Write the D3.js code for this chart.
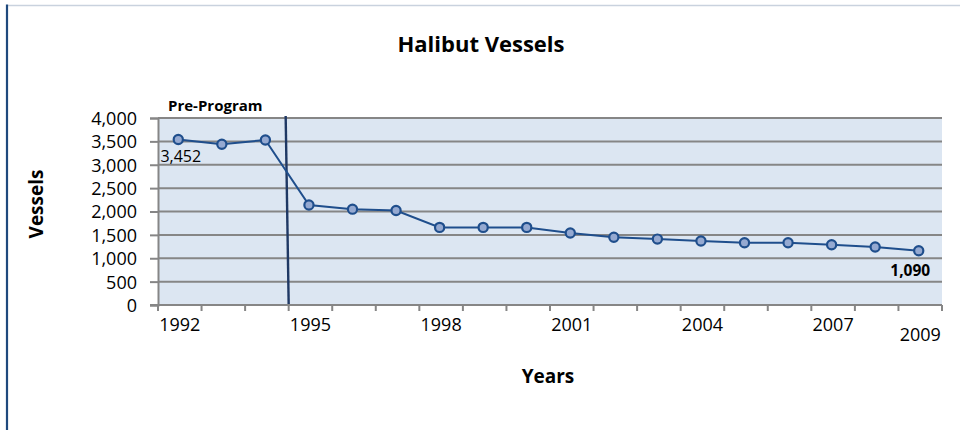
<!DOCTYPE html>
<html>
<head>
<meta charset="utf-8">
<title>Halibut Vessels</title>
<script src="https://cdn.jsdelivr.net/npm/d3@7"></script>
<style>
body { margin: 0; background: #fff; }
text { font-family: "Open Sans", sans-serif; fill: #000; }
.tick text { font-size: 18px; }
.bold { font-weight: bold; }
</style>
</head>
<body>
<script>

var years = [1992, 1993, 1994, 1995, 1996, 1997, 1998, 1999, 2000,
             2001, 2002, 2003, 2004, 2005, 2006, 2007, 2008, 2009];
var vessels = [3540, 3440, 3530, 2140, 2050, 2020, 1660, 1660, 1660,
               1540, 1450, 1410, 1370, 1330, 1330, 1290, 1240, 1160];
var yearLabels = [1992, 1995, 1998, 2001, 2004, 2007, 2009];
var yTicks = [0, 500, 1000, 1500, 2000, 2500, 3000, 3500, 4000];

var width = 960, height = 430;
var margin = {top: 118, right: 18, bottom: 125, left: 158};

var svg = d3.select("body").append("svg")
    .attr("width", width)
    .attr("height", height);

// outer frame: blue left edge, pale top edge
svg.append("line")
    .attr("x1", 8).attr("x2", width).attr("y1", 5.5).attr("y2", 5.5)
    .style("stroke", "#c9d2de").style("stroke-width", 1.5);
svg.append("line")
    .attr("x1", 7).attr("x2", 7).attr("y1", 4.5).attr("y2", height)
    .style("stroke", "#1f497d").style("stroke-width", 2.2);

var x = d3.scaleBand()
    .domain(years)
    .range([margin.left, width - margin.right])
    .padding(0);

var y = d3.scaleLinear()
    .domain([0, 4000])
    .range([height - margin.bottom, margin.top]);

// plot background
svg.append("rect")
    .attr("x", x.range()[0])
    .attr("y", y(4000))
    .attr("width", x.range()[1] - x.range()[0])
    .attr("height", y(0) - y(4000))
    .style("fill", "#dce6f2");

// y axis with gridlines
var yAxis = svg.append("g")
    .attr("transform", "translate(" + margin.left + ",0)")
    .call(d3.axisLeft(y).tickValues(yTicks).tickSize(8).tickFormat(d3.format(",")));
yAxis.select(".domain").style("stroke", "#868686").style("stroke-width", 2);
yAxis.selectAll(".tick line").style("stroke", "#868686").style("stroke-width", 2);
yAxis.selectAll(".tick text").attr("x", -21).attr("dy", "0.36em");

svg.append("g")
    .selectAll("line")
    .data(yTicks.filter(function(d) { return d > 0; }))
    .enter().append("line")
    .attr("x1", x.range()[0])
    .attr("x2", x.range()[1])
    .attr("y1", function(d) { return y(d); })
    .attr("y2", function(d) { return y(d); })
    .style("stroke", "#868686")
    .style("stroke-width", 2);

// x axis: ticks at band edges, labels at band centres
var xAxis = svg.append("g")
    .attr("transform", "translate(0," + y(0) + ")");
xAxis.append("line")
    .attr("x1", x.range()[0] - 8).attr("x2", x.range()[1])
    .style("stroke", "#868686").style("stroke-width", 2);
xAxis.selectAll(".edge")
    .data(years.map(function(d) { return x(d); }).concat([x.range()[1]]))
    .enter().append("line")
    .attr("class", "edge")
    .attr("x1", function(d) { return d; })
    .attr("x2", function(d) { return d; })
    .attr("y1", 0).attr("y2", 6)
    .style("stroke", "#868686").style("stroke-width", 2);
xAxis.selectAll(".lbl")
    .data(yearLabels)
    .enter().append("text")
    .attr("class", "lbl")
    .attr("x", function(d) { return x(d) + x.bandwidth() / 2; })
    .attr("y", function(d) { return d == 2009 ? 36 : 26; })
    .attr("text-anchor", "middle")
    .style("font-size", "18px")
    .text(function(d) { return d; });

// program start marker
var x95 = x(1995);
svg.append("line")
    .attr("x1", x95 - 3).attr("y1", y(4000) - 2)
    .attr("x2", x95).attr("y2", y(0) - 1)
    .style("stroke", "#1f3864")
    .style("stroke-width", 2.4);

// series line and markers
var line = d3.line()
    .x(function(d, i) { return x(years[i]) + x.bandwidth() / 2 - 1.5; })
    .y(function(d) { return y(d); });

svg.append("path")
    .datum(vessels)
    .attr("d", line)
    .style("fill", "none")
    .style("stroke", "#1f4e8c")
    .style("stroke-width", 2);

svg.append("g")
    .selectAll("circle")
    .data(vessels)
    .enter().append("circle")
    .attr("cx", function(d, i) { return x(years[i]) + x.bandwidth() / 2 - 1.5; })
    .attr("cy", function(d) { return y(d); })
    .attr("r", 4.6)
    .style("fill", "#95a9d1")
    .style("stroke", "#1f4e8c")
    .style("stroke-width", 2.2);

// data labels
svg.append("text")
    .attr("x", x(1992) + x.bandwidth() / 2 + 1)
    .attr("y", y(vessels[0]) + 22)
    .attr("text-anchor", "middle")
    .style("font-size", "16px")
    .text("3,452");

svg.append("text")
    .attr("class", "bold")
    .attr("x", x(2009) + x.bandwidth() / 2 - 10)
    .attr("y", y(vessels[vessels.length - 1]) + 25)
    .attr("text-anchor", "middle")
    .style("font-size", "15.5px")
    .text("1,090");

svg.append("text")
    .attr("class", "bold")
    .attr("x", 168)
    .attr("y", 111)
    .style("font-size", "15px")
    .text("Pre-Program");

// titles
svg.append("text")
    .attr("class", "bold")
    .attr("x", 481)
    .attr("y", 52)
    .attr("text-anchor", "middle")
    .style("font-size", "22px")
    .text("Halibut Vessels");

svg.append("text")
    .attr("class", "bold")
    .attr("x", 548)
    .attr("y", 383)
    .attr("text-anchor", "middle")
    .style("font-size", "19px")
    .text("Years");

svg.append("text")
    .attr("class", "bold")
    .attr("transform", "translate(43,204) rotate(-90)")
    .attr("text-anchor", "middle")
    .style("font-size", "19px")
    .text("Vessels");

</script>
</body>
</html>
